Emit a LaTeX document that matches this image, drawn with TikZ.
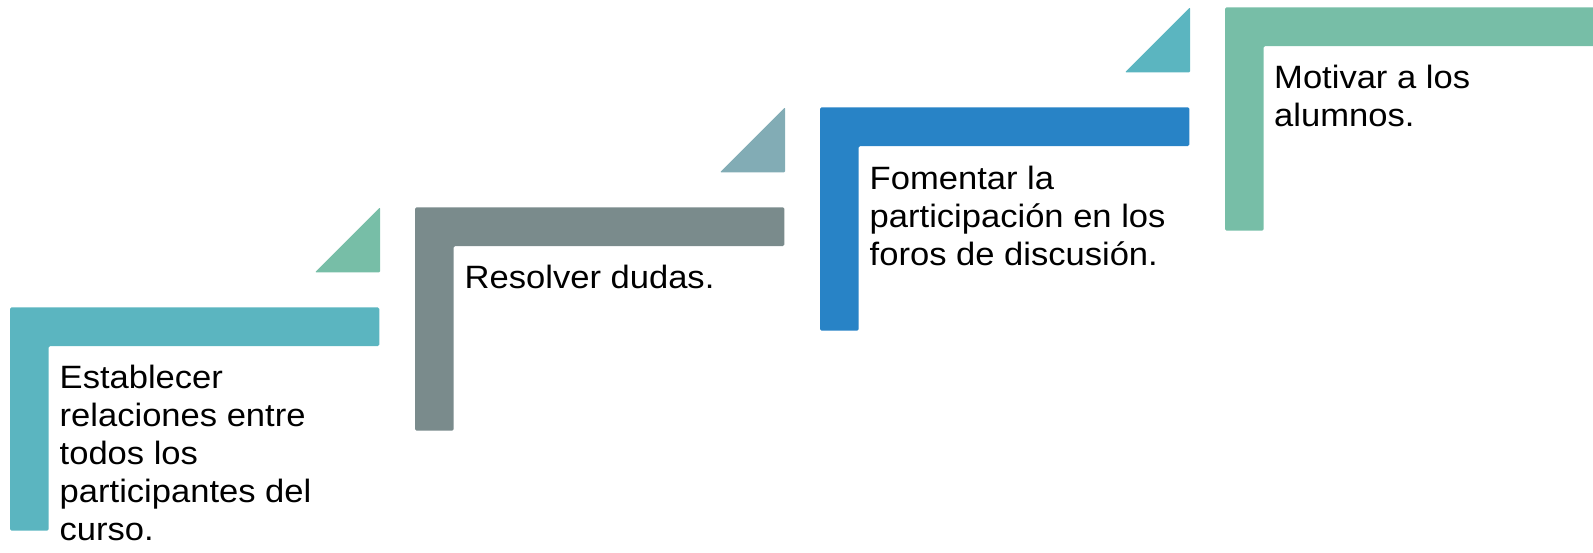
\documentclass[tikz,border=0pt]{standalone}
\usepackage{fontspec}
\setmainfont[FakeStretch=1.07]{Liberation Sans}
\definecolor{cTeal}{HTML}{5BB5C0}
\definecolor{cGreen}{HTML}{77BEA7}
\definecolor{cGray}{HTML}{7A8B8C}
\definecolor{cGrayBlue}{HTML}{82ACB5}
\definecolor{cBlue}{HTML}{2883C6}
\begin{document}
\begin{tikzpicture}[x=1pt,y=-1pt,
  stepshape/.style={rounded corners=1.5pt},
  tri/.style={rounded corners=1pt},
  lbl/.style={anchor=base west,inner sep=0pt,align=left,
    font=\fontsize{32.3}{38}\selectfont,text=black}]
\useasboundingbox (0,0) rectangle (1593,552);
% step 1
\fill[cTeal,stepshape] (10,307.3) -- (379.3,307.3) -- (379.3,346) -- (48.7,346) -- (48.7,530.7) -- (10,530.7) -- cycle;
\fill[cGreen,tri] (380,207.3) -- (380,272.3) -- (315,272.3) -- cycle;
\node[lbl] (t1) at (59.5,540.5) {Establecer\\relaciones entre\\todos los\\participantes del\\curso.};
% step 2
\fill[cGray,stepshape] (415,207.3) -- (784.3,207.3) -- (784.3,246) -- (453.7,246) -- (453.7,430.7) -- (415,430.7) -- cycle;
\fill[cGrayBlue,tri] (785,107.3) -- (785,172.3) -- (720,172.3) -- cycle;
\node[lbl] (t2) at (464.5,288.5) {Resolver dudas.};
% step 3
\fill[cBlue,stepshape] (820,107.3) -- (1189.3,107.3) -- (1189.3,146) -- (858.7,146) -- (858.7,330.7) -- (820,330.7) -- cycle;
\fill[cTeal,tri] (1190,7.3) -- (1190,72.3) -- (1125,72.3) -- cycle;
\node[lbl] (t3) at (869.5,265.5) {Fomentar la\\participación en los\\foros de discusión.};
% step 4
\fill[cGreen,stepshape] (1225,7.3) -- (1594.3,7.3) -- (1594.3,46) -- (1263.7,46) -- (1263.7,230.7) -- (1225,230.7) -- cycle;
\node[lbl] (t4) at (1274,126.7) {Motivar a los\\alumnos.};
\end{tikzpicture}
\end{document}
